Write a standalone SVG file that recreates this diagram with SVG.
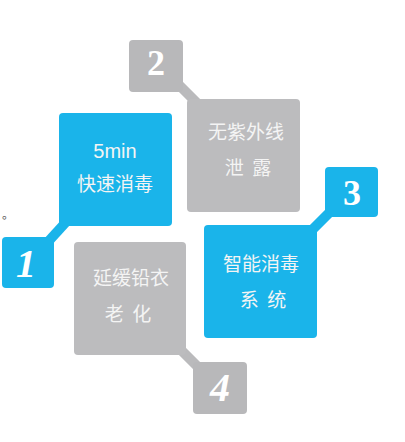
<svg xmlns="http://www.w3.org/2000/svg" width="405" height="442" viewBox="0 0 405 442">
<style>
.blue{fill:#1ab4ea}
.gray{fill:#bcbcbe}
.gray2{fill:#b8b8ba}
.cb{stroke:#1ab4ea;stroke-width:10;stroke-linecap:butt}
.cg{stroke:#bababc;stroke-width:10;stroke-linecap:butt}
.t{font-family:"Noto Sans CJK SC","Liberation Sans",sans-serif;font-size:19px;fill:#f4f4f4;text-anchor:middle}
.l{font-family:"Liberation Sans",sans-serif;font-size:20px;fill:#f4f4f4;text-anchor:middle}
.n{font-family:"Liberation Serif",serif;font-weight:bold;font-size:36px;fill:#ffffff;text-anchor:middle}
.i{font-style:italic;font-size:40px}
</style>
<rect width="405" height="442" fill="#ffffff"/>
<text x="2" y="219" font-family="Noto Sans CJK SC, sans-serif" font-size="12" fill="#555">。</text>
<g id="connectors">
<line class="cg" x1="176" y1="82" x2="198" y2="104"/>
<line class="cb" x1="46" y1="244" x2="67" y2="221"/>
<line class="cb" x1="331" y1="211" x2="309" y2="233"/>
<line class="cg" x1="179" y1="348" x2="200" y2="369"/>
</g>
<g id="n2">
<rect class="gray2" x="129" y="40" width="54" height="52" rx="4"/>
<text class="n" x="156" y="75">2</text>
</g>
<g id="uv">
<rect class="gray" x="187" y="99" width="113" height="113" rx="4"/>
<text class="t" x="246" y="139">无紫外线</text>
<text class="t" x="248" y="175" xml:space="preserve">泄  露</text>
</g>
<g id="fast">
<rect class="blue" x="59" y="113" width="113" height="113" rx="4"/>
<text class="l" x="115" y="158">5min</text>
<text class="t" x="115" y="191">快速消毒</text>
</g>
<g id="n3">
<rect class="blue" x="325" y="167" width="53" height="50" rx="4"/>
<text class="n" x="352" y="205">3</text>
</g>
<g id="n1">
<rect class="blue" x="2" y="237" width="52" height="51" rx="4"/>
<text class="n i" x="26" y="277">1</text>
</g>
<g id="smart">
<rect class="blue" x="204" y="225" width="113" height="113" rx="4"/>
<text class="t" x="261" y="271">智能消毒</text>
<text class="t" x="263" y="307" xml:space="preserve">系  统</text>
</g>
<g id="lead">
<rect class="gray" x="74" y="242" width="112" height="113" rx="4"/>
<text class="t" x="131" y="285">延缓铅衣</text>
<text class="t" x="128" y="321" xml:space="preserve">老  化</text>
</g>
<g id="n4">
<rect class="gray2" x="193" y="362" width="54" height="52" rx="4"/>
<text class="n i" x="220" y="401">4</text>
</g>
</svg>
